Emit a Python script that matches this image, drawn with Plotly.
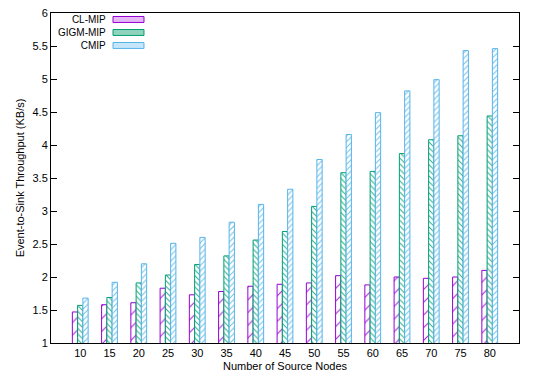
import plotly.graph_objects as go

NODES = ["10", "15", "20", "25", "30", "35", "40", "45", "50", "55", "60", "65", "70", "75", "80"]

CL_MIP = [1.47, 1.58, 1.61, 1.83, 1.73, 1.78, 1.86, 1.89, 1.91, 2.02, 1.88, 2.00, 1.98, 2.00, 2.10]
GIGM_MIP = [1.57, 1.69, 1.91, 2.03, 2.19, 2.32, 2.56, 2.69, 3.07, 3.58, 3.60, 3.87, 4.08, 4.14, 4.44]
CMIP = [1.68, 1.92, 2.20, 2.51, 2.60, 2.83, 3.10, 3.33, 3.78, 4.16, 4.49, 4.82, 4.99, 5.43, 5.46]

# name, values, colour, light swatch colour, hatch shape, hatch size, solidity
SERIES = [
    ("CL-MIP", CL_MIP, "#9400d3", "#e3b8f5", "/", 9, 0.12),
    ("GIGM-MIP", GIGM_MIP, "#009e73", "#8fd3bd", "\\", 4, 0.25),
    ("CMIP", CMIP, "#56b4e9", "#c5e5f8", "/", 4, 0.25),
]

FONT = "Liberation Sans, Arial, sans-serif"

fig = go.Figure()
for name, values, color, light, shape, size, solid in SERIES:
    fig.add_trace(
        go.Bar(
            x=NODES,
            y=values,
            name=name,
            showlegend=False,
            marker=dict(
                color="white",
                line=dict(color=color, width=1),
                pattern=dict(shape=shape, fgcolor=color, bgcolor="white",
                             size=size, solidity=solid, fgopacity=0.85),
            ),
        )
    )

# gnuplot-style key: labels on the left, swatches on the right
KEY_MID = 0.941
KEY_STEP = 0.0394
fig.add_annotation(
    x=0.122, y=KEY_MID, xref="paper", yref="paper",
    text="<br>".join(s[0] for s in SERIES), align="right",
    showarrow=False, xanchor="right", yanchor="middle",
    font=dict(size=10),
)
for i, s in enumerate(SERIES):
    yc = KEY_MID + (1 - i) * KEY_STEP
    fig.add_shape(
        type="rect", xref="paper", yref="paper",
        x0=0.1325, x1=0.1987, y0=yc - 0.009, y1=yc + 0.009,
        fillcolor=s[3], line=dict(color=s[2], width=1),
    )

# the page body adds an 8px margin, so the figure is 8px smaller
fig.update_layout(
    width=530,
    height=369,
    plot_bgcolor="white",
    paper_bgcolor="white",
    barmode="group",
    bargap=0.46,
    bargroupgap=0,
    margin=dict(l=43, r=19, t=5, b=34),
    font=dict(family=FONT, size=11, color="black"),
    xaxis=dict(
        type="category",
        range=[-1, 15],
        automargin=False,
        showline=True, linecolor="black", linewidth=1, mirror=True,
        ticks="", showgrid=False,
        title=dict(text="Number of Source Nodes", standoff=4, font=dict(size=11)),
        tickfont=dict(size=11),
    ),
    yaxis=dict(
        range=[1, 6],
        automargin=False,
        ticklabeloverflow="allow",
        tickvals=[1, 1.5, 2, 2.5, 3, 3.5, 4, 4.5, 5, 5.5, 6],
        ticktext=["1", "1.5", "2", "2.5", "3", "3.5", "4", "4.5", "5", "5.5", "6"],
        showline=True, linecolor="black", linewidth=1, mirror="ticks",
        ticks="inside", ticklen=6, tickcolor="black",
        showgrid=False, zeroline=False,
        title=dict(text="Event-to-Sink Throughput (KB/s)", standoff=5, font=dict(size=11)),
        tickfont=dict(size=11),
    ),
)

fig.write_html("out.html")
